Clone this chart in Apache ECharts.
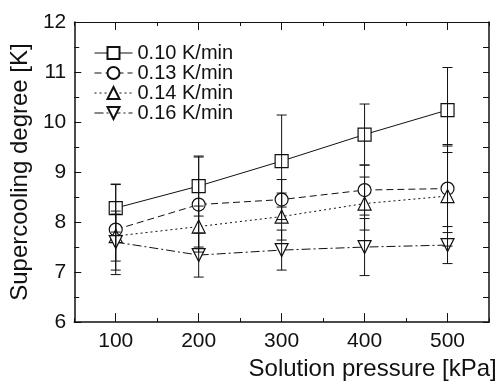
<!DOCTYPE html>
<html>
<head>
<meta charset="utf-8">
<script src="https://cdn.jsdelivr.net/npm/echarts@6/dist/echarts.min.js"></script>
<style>
  html, body { margin: 0; padding: 0; background: #fff; }
  #chart { width: 503px; height: 386px; }
</style>
</head>
<body>
<div id="chart"></div>
<script>
// data
var pressure = [100, 200, 300, 400, 500];
var names = ['0.10 K/min', '0.13 K/min', '0.14 K/min', '0.16 K/min'];
var rate010 = [8.28, 8.72, 9.22, 9.75, 10.24];
var rate013 = [7.85, 8.35, 8.45, 8.64, 8.67];
var rate014 = [7.72, 7.91, 8.11, 8.37, 8.52];
var rate016 = [7.60, 7.34, 7.44, 7.50, 7.54];
var err010 = [0.48, 0.60, 0.92, 0.61, 0.85];
var err013 = [0.90, 0.95, 0.40, 0.50, 0.88];
var err014 = [0.50, 0.41, 0.47, 0.53, 1.00];
var err016 = [0.56, 0.44, 0.40, 0.57, 0.37];
var yTicks = [6, 7, 8, 9, 10, 11, 12];

var ink = '#111';
var font = "'Liberation Sans', Arial, sans-serif";
var myChart = echarts.init(document.getElementById('chart'));

var vals = [rate010, rate013, rate014, rate016];
var errs = [err010, err013, err014, err016];
var symbols = ['rect', 'circle', 'triangle', 'triangle'];
var rotates = [0, 0, 0, 180];
var dashes = ['solid', [7, 4], [2, 3], [9, 3, 2, 3]];

var series = [];
vals.forEach(function (v, i) {
    series.push({
        name: names[i],
        type: 'line',
        data: pressure.map(function (p, k) { return [p, v[k]]; }),
        symbol: symbols[i],
        symbolRotate: rotates[i],
        symbolSize: 13,
        itemStyle: { color: '#fff', borderColor: ink, borderWidth: 1.2 },
        lineStyle: { color: ink, width: 1, type: dashes[i] },
        z: 2
    });
});

// error bars for all series
var errData = [];
vals.forEach(function (v, i) {
    pressure.forEach(function (p, k) {
        errData.push([p, v[k] - errs[i][k], v[k] + errs[i][k]]);
    });
});
series.push({
    type: 'custom',
    z: 3,
    silent: true,
    data: errData,
    renderItem: function (params, api) {
        var lo = api.coord([api.value(0), api.value(1)]);
        var hi = api.coord([api.value(0), api.value(2)]);
        var w = 5;
        var st = { stroke: ink, lineWidth: 1 };
        return {
            type: 'group',
            children: [
                { type: 'line', shape: { x1: lo[0], y1: lo[1], x2: hi[0], y2: hi[1] }, style: st },
                { type: 'line', shape: { x1: lo[0] - w, y1: lo[1], x2: lo[0] + w, y2: lo[1] }, style: st },
                { type: 'line', shape: { x1: hi[0] - w, y1: hi[1], x2: hi[0] + w, y2: hi[1] }, style: st }
            ]
        };
    }
});

function plainX(pos, len, custom) {
    var a = {
        type: 'value', min: 50, max: 550, position: pos,
        axisLine: { show: false },
        axisTick: { show: true, inside: true, length: len, lineStyle: { color: ink } },
        axisLabel: { show: false },
        splitLine: { show: false }
    };
    if (custom) {
        a.axisTick.customValues = pressure;
    } else {
        a.interval = 50;
    }
    return a;
}

option = {
    backgroundColor: '#fff',
    animation: false,
    grid: { left: 70, right: 14, top: 22, bottom: 60 },
    legend: {
        orient: 'vertical',
        left: 89,
        top: 38,
        itemWidth: 38,
        itemHeight: 15,
        itemGap: 0,
        data: names,
        lineStyle: { width: 1 },
        textStyle: { color: ink, fontSize: 20, fontFamily: font, lineHeight: 18 }
    },
    xAxis: [
        {
            type: 'value', min: 50, max: 550, interval: 50, position: 'bottom',
            name: 'Solution pressure [kPa]',
            nameLocation: 'middle',
            nameGap: 34,
            nameTextStyle: { color: ink, fontSize: 24, fontFamily: font, padding: [0, 0, 0, 182] },
            axisLine: { show: true, lineStyle: { color: ink, width: 1.5 } },
            axisTick: { show: true, inside: true, length: 4, lineStyle: { color: ink } },
            axisLabel: {
                color: ink, fontSize: 21, fontFamily: font, margin: 9,
                formatter: function (v) { return v % 100 === 0 && v >= 100 && v <= 500 ? String(v) : ''; }
            },
            splitLine: { show: false }
        },
        plainX('bottom', 9, true),
        {
            type: 'value', min: 50, max: 550, interval: 50, position: 'top',
            axisLine: { show: true, lineStyle: { color: ink, width: 1.2 } },
            axisTick: { show: true, inside: true, length: 4, lineStyle: { color: ink } },
            axisLabel: { show: false },
            splitLine: { show: false }
        },
        plainX('top', 8, true)
    ],
    yAxis: [
        {
            type: 'value', min: 6, max: 12, interval: 1, position: 'left',
            name: 'Supercooling degree [K]',
            nameLocation: 'middle',
            nameGap: 42,
            nameTextStyle: { color: ink, fontSize: 24, fontFamily: font },
            axisLine: { show: true, lineStyle: { color: ink, width: 1.5 } },
            axisTick: { show: true, inside: true, length: 7, lineStyle: { color: ink } },
            minorTick: { show: true, splitNumber: 2, length: 5, lineStyle: { color: ink } },
            axisLabel: {
                color: ink, fontSize: 21, fontFamily: font, margin: 8,
                formatter: function (v) { return yTicks.indexOf(v) >= 0 ? String(v) : ''; }
            },
            splitLine: { show: false }
        },
        {
            type: 'value', min: 6, max: 12, interval: 0.5, position: 'right',
            axisLine: { show: true, lineStyle: { color: ink, width: 1.5 } },
            axisTick: { show: true, inside: true, length: 6, lineStyle: { color: ink } },
            axisLabel: { show: false },
            splitLine: { show: false }
        }
    ],
    series: series
};

myChart.setOption(option);
</script>
</body>
</html>
